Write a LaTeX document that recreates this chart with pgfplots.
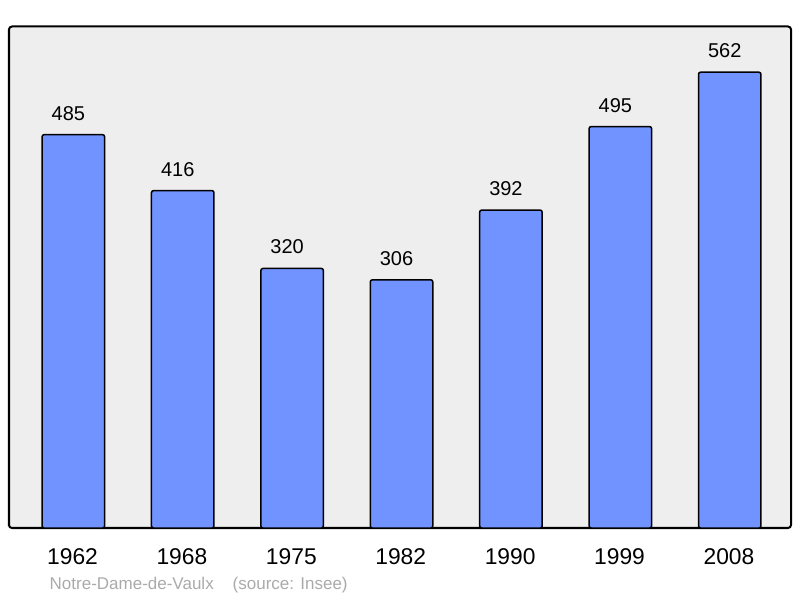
\documentclass[border=0pt]{standalone}
\usepackage{fontspec}
\setmainfont{Liberation Sans}
\usepackage{pgfplots}
\pgfplotsset{compat=1.18}
\definecolor{barblue}{RGB}{112,147,255}
\definecolor{bggray}{RGB}{238,238,238}
\definecolor{srcgray}{RGB}{170,170,170}
\begin{document}
\begin{tikzpicture}
\path[use as bounding box] (0,0) rectangle (800bp,598bp);
\begin{axis}[
  at={(9bp,70bp)}, anchor=south west,
  scale only axis, width=782bp, height=501.5bp,
  xmin=-0.588, xmax=6.56, ymin=0, ymax=618.4,
  /pgf/number format/assume math mode=true,
  axis background/.style={fill=bggray, rounded corners=3bp},
  axis line style={line width=2bp, rounded corners=3bp, black},
  ybar, bar width=0.571,
  xtick={0,1,2,3,4,5,6},
  xticklabels={1962,1968,1975,1982,1990,1999,2008},
  ytick=\empty,
  xtick style={draw=none},
  xticklabel style={font=\fontsize{22.8bp}{26bp}\selectfont, anchor=base, yshift=-32bp, xshift=-0.8bp, inner sep=0pt},
  nodes near coords,
  every node near coord/.append style={font=\fontsize{20bp}{24bp}\selectfont, anchor=base, yshift=14.5bp, xshift=-5bp, inner sep=0pt, text=black},
  clip=false,
]
\addplot[fill=barblue, draw=black, line width=1.5bp, rounded corners=2bp]
  coordinates {(0,485) (1,416) (2,320) (3,306) (4,392) (5,495) (6,562)};
\end{axis}
\node[anchor=base west, text=srcgray, font=\fontsize{17bp}{20bp}\selectfont, inner sep=0pt] at (49.5bp,9bp) {Notre-Dame-de-Vaulx};
\node[anchor=base west, text=srcgray, font=\fontsize{17bp}{20bp}\selectfont, inner sep=0pt] at (232.5bp,9bp) {(source: Insee)};
\end{tikzpicture}
\end{document}
